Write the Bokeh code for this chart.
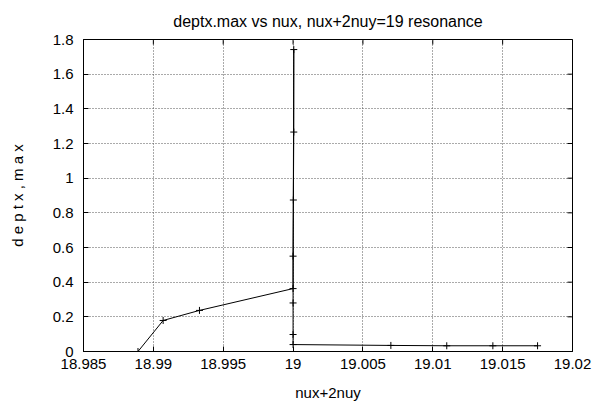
import math
from bokeh.plotting import figure
from bokeh.models import FixedTicker, Range1d
from bokeh.embed import file_html
from bokeh.resources import INLINE

# data
nux2nuy = [18.9889, 18.9907, 18.9933, 19.0000, 19.00005, 19.00005, 19.00002,
           19.0000, 19.0000, 19.0000, 19.0000, 19.0070, 19.0110, 19.0143, 19.0175]
deptx_max = [0.0, 0.179, 0.237, 0.363, 1.742, 1.266, 0.874,
             0.550, 0.280, 0.098, 0.040, 0.035, 0.033, 0.033, 0.033]

x_ticks = [18.985, 18.99, 18.995, 19.0, 19.005, 19.01, 19.015, 19.02]
x_tick_labels = ["18.985", "18.99", "18.995", "19", "19.005", "19.01", "19.015", "19.02"]
y_ticks = [0.0, 0.2, 0.4, 0.6, 0.8, 1.0, 1.2, 1.4, 1.6, 1.8]
y_tick_labels = ["0", "0.2", "0.4", "0.6", "0.8", "1", "1.2", "1.4", "1.6", "1.8"]

title_text = "deptx.max vs nux, nux+2nuy=19 resonance"
x_label = "nux+2nuy"
y_label = "d e p t x , m a x"

FONT = "Liberation Sans"

x0, x1 = x_ticks[0], x_ticks[-1]
y0, y1 = y_ticks[0], y_ticks[-1]

p = figure(width=596, height=411, output_backend="svg", toolbar_location=None,
           x_range=Range1d(x0, x1), y_range=Range1d(y0, y1),
           title=title_text, x_axis_label=x_label, y_axis_label=y_label,
           min_border_left=83, min_border_right=24, min_border_top=39,
           min_border_bottom=60)

p.title.align = "center"
p.title.vertical_align = "top"
p.title.text_font = FONT
p.title.text_font_size = "16px"
p.title.text_font_style = "normal"
p.title.text_color = "black"
p.title.standoff = 16

p.outline_line_color = "black"
p.outline_line_width = 1
p.outline_line_alpha = 1
p.background_fill_color = "white"
p.border_fill_color = "white"

xt = FixedTicker(ticks=x_ticks, minor_ticks=[])
yt = FixedTicker(ticks=y_ticks, minor_ticks=[])

xax = p.xaxis[0]
yax = p.yaxis[0]
xax.ticker = xt
yax.ticker = yt
xax.major_label_overrides = {t: l for t, l in zip(x_ticks, x_tick_labels)}
yax.major_label_overrides = {t: l for t, l in zip(y_ticks, y_tick_labels)}

for ax in (xax, yax):
    ax.major_tick_in = 5
    ax.major_tick_out = 0
    ax.minor_tick_line_color = None
    ax.axis_line_color = "black"
    ax.major_tick_line_color = "black"
    ax.major_label_text_font = FONT
    ax.major_label_text_font_size = "15px"
    ax.major_label_text_color = "black"
    ax.axis_label_text_font = FONT
    ax.axis_label_text_font_size = "15px"
    ax.axis_label_text_font_style = "normal"
    ax.axis_label_text_color = "black"

xax.major_label_standoff = 7
xax.axis_label_standoff = 12
yax.major_label_standoff = 10
yax.axis_label_standoff = 24

for g in (p.xgrid[0], p.ygrid[0]):
    g.grid_line_color = "#555555"
    g.grid_line_dash = "1 2"
    g.grid_line_width = 1
p.xgrid[0].ticker = xt
p.ygrid[0].ticker = yt

# mirrored inward tick marks on top and right edges (clipped to the frame)
p.scatter([x1] * len(y_ticks), y_ticks, marker="dash", size=10,
          line_color="black", line_width=1)
p.scatter(x_ticks, [y1] * len(x_ticks), marker="dash", size=10, angle=math.pi / 2,
          line_color="black", line_width=1)

p.line(nux2nuy, deptx_max, line_color="black", line_width=1)
p.scatter(nux2nuy, deptx_max, marker="cross", size=7, line_color="black", line_width=1)

open("out.html", "w").write(file_html(p, INLINE))
